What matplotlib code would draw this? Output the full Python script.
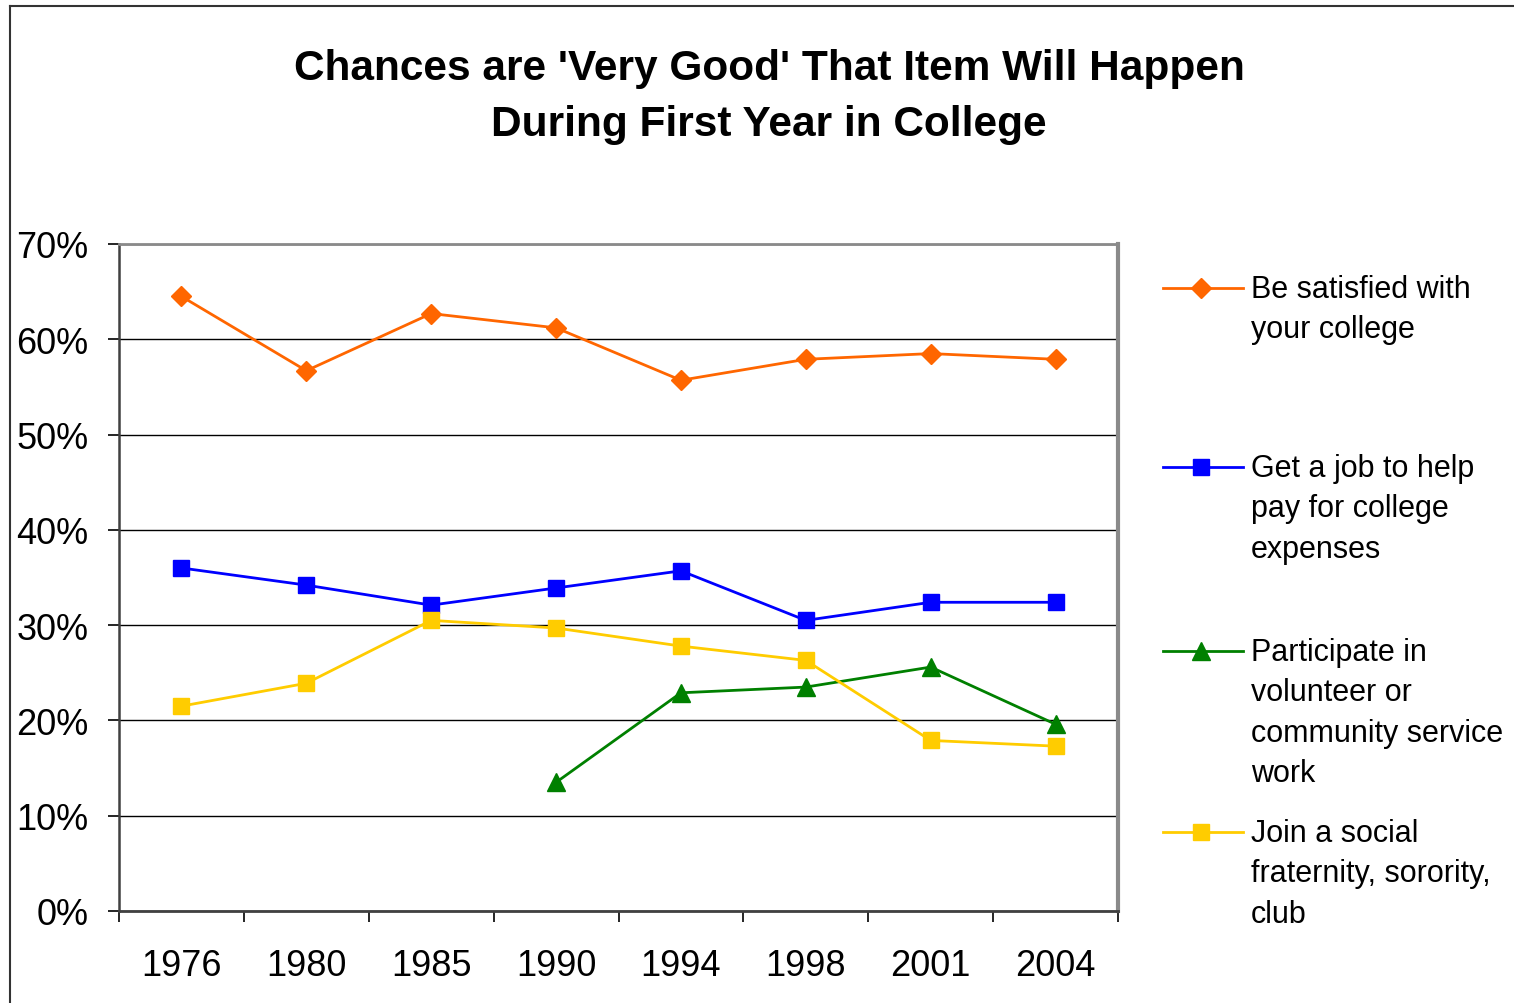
import numpy as np
import matplotlib
matplotlib.use("Agg")
import matplotlib.pyplot as plt
from matplotlib.lines import Line2D

years = ["1976", "1980", "1985", "1990", "1994", "1998", "2001", "2004"]
satisfied = [64.5, 56.7, 62.7, 61.2, 55.7, 57.9, 58.5, 57.9]
job = [36.0, 34.2, 32.1, 33.9, 35.7, 30.5, 32.4, 32.4]
volunteer = [np.nan, np.nan, np.nan, 13.5, 22.9, 23.5, 25.6, 19.6]
social = [21.5, 23.9, 30.5, 29.7, 27.8, 26.3, 17.9, 17.3]
y_ticks = [0, 10, 20, 30, 40, 50, 60, 70]
y_labels = ["0%", "10%", "20%", "30%", "40%", "50%", "60%", "70%"]
series_labels = ["Be satisfied with\nyour college",
                 "Get a job to help\npay for college\nexpenses",
                 "Participate in\nvolunteer or\ncommunity service\nwork",
                 "Join a social\nfraternity, sorority,\nclub"]
title = "Chances are 'Very Good' That Item Will Happen\nDuring First Year in College"

plt.rcParams['font.family'] = ['Liberation Sans', 'DejaVu Sans']

W, H = 1514, 1004
fig = plt.figure(figsize=(W / 100, H / 100), dpi=100)
ax = fig.add_axes([119 / W, 1 - 912 / H, (1118 - 119) / W, (912 - 245) / H])

x = np.arange(len(years))
styles = [
    dict(color="#FF6600", marker="D", markersize=10.5),
    dict(color="#0000FF", marker="s", markersize=11.5),
    dict(color="#008000", marker="^", markersize=13.5),
    dict(color="#FFCC00", marker="s", markersize=11.5),
]
lines = []
for vals, st in zip([satisfied, job, volunteer, social], styles):
    ln, = ax.plot(x, vals, color=st["color"], lw=2.0, marker=st["marker"],
                  markersize=st["markersize"], markerfacecolor=st["color"],
                  markeredgecolor=st["color"], clip_on=False, zorder=3)
    lines.append(ln)

ax.set_xlim(-0.5, len(years) - 0.5)
ax.set_ylim(0, 70)
ax.set_yticks(y_ticks)
ax.set_yticklabels(y_labels, fontsize=26)
ax.yaxis.grid(True, color="black", lw=1.0)
ax.set_axisbelow(True)

ax.set_xticks(np.arange(-0.5, len(years)), labels=[""] * (len(years) + 1))
ax.set_xticks(x, labels=years, minor=True, fontsize=26)
ax.tick_params(axis="x", which="major", direction="out", length=8, width=1.2, color="black")
ax.tick_params(axis="x", which="minor", length=0, pad=27)
ax.tick_params(axis="y", direction="out", length=8, width=1.2, color="black", pad=14)

ax.spines["left"].set_color("#404040")
ax.spines["left"].set_linewidth(1.8)
ax.spines["bottom"].set_color("#404040")
ax.spines["bottom"].set_linewidth(2.0)
ax.spines["top"].set_color("#8a8a8a")
ax.spines["top"].set_linewidth(2.0)
ax.spines["right"].set_color("#8a8a8a")
ax.spines["right"].set_linewidth(3.0)

fig.text(769 / W, 1 - 97 / H, title, ha="center", va="center", fontsize=30.5,
         fontweight="bold", linespacing=1.54)

# legend (manual layout)
entry_y = [289, 468, 652, 833]
for ln, lab, yy in zip(lines, series_labels, entry_y):
    yf = 1 - yy / H
    fig.add_artist(Line2D([1163 / W, 1243 / W], [yf, yf], transform=fig.transFigure,
                          color=ln.get_color(), lw=2.0))
    fig.add_artist(Line2D([1201 / W], [yf], transform=fig.transFigure,
                          color=ln.get_color(), marker=ln.get_marker(),
                          markersize=ln.get_markersize(), lw=0))
    fig.text(1251 / W, 1 - (yy - 14) / H, lab, ha="left", va="top", fontsize=22,
             linespacing=1.45)

# outer chart border
fig.add_artist(Line2D([10 / W, 10 / W], [0, 1 - 7 / H], transform=fig.transFigure,
                      color="#333333", lw=1.5))
fig.add_artist(Line2D([10 / W, 1], [1 - 7 / H, 1 - 7 / H], transform=fig.transFigure,
                      color="#333333", lw=1.5))

fig.savefig("out.png", dpi=100, facecolor="white")
